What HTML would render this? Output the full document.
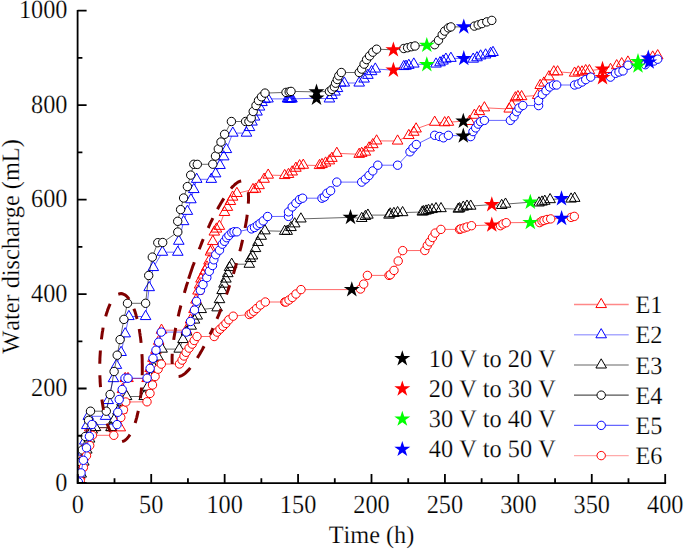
<!DOCTYPE html><html><head><meta charset="utf-8"><style>html,body{margin:0;padding:0;background:#fff;}svg{display:block;}text{font-family:"Liberation Serif",serif;text-rendering:geometricPrecision;font-kerning:none;stroke:#fff;stroke-width:0.2px;}</style></head><body><svg width="685" height="549" viewBox="0 0 685 549" font-family="Liberation Serif, serif" font-size="24.3" fill="#000"><defs><clipPath id="pc"><rect x="77.6" y="0" width="600" height="483.1"/></clipPath></defs><g clip-path="url(#pc)"><g><path d="M78.3,482 79.8,476 81.5,467 83.3,457 85.5,445 88,435 89.7,427.8 94,427.8 111.5,427.8 120.3,427.8 121.7,410 122.5,389.5 125.2,378.5 128,378.5 147.1,378.5 150.1,368.4 153,358.3 156,350.2 158.7,341.2 161.5,330.2 186.3,330.2 190.5,320 194,309.5 196,300 198,291 199.6,285 201,279 203,275 205,271 207,267 209,261 210.5,252 211.4,250 212.8,241.5 214.3,232 216.5,229 219.4,226.3 224.5,212.4 227.4,207.3 230.4,201.4 232.6,197.1 236.9,193.4 253,189.5 255.6,189.1 259.1,185.6 264.1,179.2 268.2,175.1 284.7,175.5 288.5,174.4 292.2,171.9 295.9,168.2 299.6,165.7 303.3,165.2 319.5,165.5 322,164.5 325.6,163 329.4,160.8 331.9,158.3 336.8,153.3 359.2,154.3 361.7,153.3 365.4,152.1 369.1,147.9 372.8,144.6 376.6,140.9 397.6,141 408.8,135.5 413.8,132.2 416.1,128.9 434.7,122.2 444.7,122.7 448.4,122.2 463.3,121.2 469.5,121.4 474.4,115.2 479.4,111.5 484.4,107.8 509.2,109 511.7,105.3 515.4,97.8 517.9,96.6 521.6,96.6 537.7,95.4 540.2,85.4 543.9,83 548.9,76.8 553.8,71.8 557.6,71.8 574.6,73.1 578.3,71.9 582,71.9 585.7,70.6 589.4,70.6 602.5,69.1 610.5,69.4 616.7,65.7 621.7,63.7 627.9,62 638,61.5 646.5,60.7 652.7,57 657.7,55.7" fill="none" stroke="#f00" stroke-width="0.6"/><path d="M78.3 475.87L83.6 485.07L73 485.07ZM79.8 469.87L85.1 479.07L74.5 479.07ZM81.5 460.87L86.8 470.07L76.2 470.07ZM83.3 450.87L88.6 460.07L78 460.07ZM85.5 438.87L90.8 448.07L80.2 448.07ZM88 428.87L93.3 438.07L82.7 438.07ZM89.7 421.67L95 430.87L84.4 430.87ZM94 421.67L99.3 430.87L88.7 430.87ZM111.5 421.67L116.8 430.87L106.2 430.87ZM120.3 421.67L125.6 430.87L115 430.87ZM121.7 403.87L127 413.07L116.4 413.07ZM122.5 383.37L127.8 392.57L117.2 392.57ZM125.2 372.37L130.5 381.57L119.9 381.57ZM128 372.37L133.3 381.57L122.7 381.57ZM147.1 372.37L152.4 381.57L141.8 381.57ZM150.1 362.27L155.4 371.47L144.8 371.47ZM153 352.17L158.3 361.37L147.7 361.37ZM156 344.07L161.3 353.27L150.7 353.27ZM158.7 335.07L164 344.27L153.4 344.27ZM161.5 324.07L166.8 333.27L156.2 333.27ZM186.3 324.07L191.6 333.27L181 333.27ZM190.5 313.87L195.8 323.07L185.2 323.07ZM194 303.37L199.3 312.57L188.7 312.57ZM196 293.87L201.3 303.07L190.7 303.07ZM198 284.87L203.3 294.07L192.7 294.07ZM199.6 278.87L204.9 288.07L194.3 288.07ZM201 272.87L206.3 282.07L195.7 282.07ZM203 268.87L208.3 278.07L197.7 278.07ZM205 264.87L210.3 274.07L199.7 274.07ZM207 260.87L212.3 270.07L201.7 270.07ZM209 254.87L214.3 264.07L203.7 264.07ZM210.5 245.87L215.8 255.07L205.2 255.07ZM211.4 243.87L216.7 253.07L206.1 253.07ZM212.8 235.37L218.1 244.57L207.5 244.57ZM214.3 225.87L219.6 235.07L209 235.07ZM216.5 222.87L221.8 232.07L211.2 232.07ZM219.4 220.17L224.7 229.37L214.1 229.37ZM224.5 206.27L229.8 215.47L219.2 215.47ZM227.4 201.17L232.7 210.37L222.1 210.37ZM230.4 195.27L235.7 204.47L225.1 204.47ZM232.6 190.97L237.9 200.17L227.3 200.17ZM236.9 187.27L242.2 196.47L231.6 196.47ZM253 183.37L258.3 192.57L247.7 192.57ZM255.6 182.97L260.9 192.17L250.3 192.17ZM259.1 179.47L264.4 188.67L253.8 188.67ZM264.1 173.07L269.4 182.27L258.8 182.27ZM268.2 168.97L273.5 178.17L262.9 178.17ZM284.7 169.37L290 178.57L279.4 178.57ZM288.5 168.27L293.8 177.47L283.2 177.47ZM292.2 165.77L297.5 174.97L286.9 174.97ZM295.9 162.07L301.2 171.27L290.6 171.27ZM299.6 159.57L304.9 168.77L294.3 168.77ZM303.3 159.07L308.6 168.27L298 168.27ZM319.5 159.37L324.8 168.57L314.2 168.57ZM322 158.37L327.3 167.57L316.7 167.57ZM325.6 156.87L330.9 166.07L320.3 166.07ZM329.4 154.67L334.7 163.87L324.1 163.87ZM331.9 152.17L337.2 161.37L326.6 161.37ZM336.8 147.17L342.1 156.37L331.5 156.37ZM359.2 148.17L364.5 157.37L353.9 157.37ZM361.7 147.17L367 156.37L356.4 156.37ZM365.4 145.97L370.7 155.17L360.1 155.17ZM369.1 141.77L374.4 150.97L363.8 150.97ZM372.8 138.47L378.1 147.67L367.5 147.67ZM376.6 134.77L381.9 143.97L371.3 143.97ZM397.6 134.87L402.9 144.07L392.3 144.07ZM408.8 129.37L414.1 138.57L403.5 138.57ZM413.8 126.07L419.1 135.27L408.5 135.27ZM416.1 122.77L421.4 131.97L410.8 131.97ZM434.7 116.07L440 125.27L429.4 125.27ZM444.7 116.57L450 125.77L439.4 125.77ZM448.4 116.07L453.7 125.27L443.1 125.27ZM469.5 115.27L474.8 124.47L464.2 124.47ZM474.4 109.07L479.7 118.27L469.1 118.27ZM479.4 105.37L484.7 114.57L474.1 114.57ZM484.4 101.67L489.7 110.87L479.1 110.87ZM509.2 102.87L514.5 112.07L503.9 112.07ZM511.7 99.17L517 108.37L506.4 108.37ZM515.4 91.67L520.7 100.87L510.1 100.87ZM517.9 90.47L523.2 99.67L512.6 99.67ZM521.6 90.47L526.9 99.67L516.3 99.67ZM537.7 89.27L543 98.47L532.4 98.47ZM540.2 79.27L545.5 88.47L534.9 88.47ZM543.9 76.87L549.2 86.07L538.6 86.07ZM548.9 70.67L554.2 79.87L543.6 79.87ZM553.8 65.67L559.1 74.87L548.5 74.87ZM557.6 65.67L562.9 74.87L552.3 74.87ZM574.6 66.97L579.9 76.17L569.3 76.17ZM578.3 65.77L583.6 74.97L573 74.97ZM582 65.77L587.3 74.97L576.7 74.97ZM585.7 64.47L591 73.67L580.4 73.67ZM589.4 64.47L594.7 73.67L584.1 73.67ZM610.5 63.27L615.8 72.47L605.2 72.47ZM616.7 59.57L622 68.77L611.4 68.77ZM621.7 57.57L627 66.77L616.4 66.77ZM627.9 55.87L633.2 65.07L622.6 65.07ZM646.5 54.57L651.8 63.77L641.2 63.77ZM652.7 50.87L658 60.07L647.4 60.07ZM657.7 49.57L663 58.77L652.4 58.77Z" fill="#fff" stroke="#f00" stroke-width="1"/></g><g><path d="M78.3,482 79.8,474 81.3,464 83,452 84.8,441 86.8,425.5 88.3,416.3 105.6,416.3 108.2,400.5 113.5,378.6 116.4,365.3 121.1,352.4 125.2,333.8 128.9,316.5 145.6,316.5 149.2,287.6 153.3,267.5 162.4,252.2 177.8,252.2 178.8,241.2 183.6,221.6 187.4,211.3 190.9,199.7 193.8,189.5 196.7,179.3 211.3,179.3 215.6,173.8 220,165.4 223.7,156.8 226.4,149.5 232.8,133.1 246.5,133.1 249.5,127.5 252,122 254.5,117 257,112 259.5,107 262,102.5 265,99.5 268,98.9 287.5,98.9 288.4,98.9 289.3,98.9 290.2,98.9 291.1,98.9 292,98.9 316.5,98.2 329.4,98.9 332,95.5 335,92 337.5,88.5 340.6,83 344.3,83 359.2,83 364.1,79 367.9,75.3 371.6,71.6 375.3,69 393.4,70.1 403.8,66.5 406,66.2 408.8,65.3 413.8,64 426.8,64.6 436,64 440,62.7 443,61 445.9,59.1 450.9,58.3 463.8,58.5 473.2,59.1 477,57.7 480.6,55.9 485.6,54.9 490.6,53.4 493,52.4" fill="none" stroke="#00f" stroke-width="0.6"/><path d="M78.3 475.87L83.6 485.07L73 485.07ZM79.8 467.87L85.1 477.07L74.5 477.07ZM81.3 457.87L86.6 467.07L76 467.07ZM83 445.87L88.3 455.07L77.7 455.07ZM84.8 434.87L90.1 444.07L79.5 444.07ZM86.8 419.37L92.1 428.57L81.5 428.57ZM88.3 410.17L93.6 419.37L83 419.37ZM105.6 410.17L110.9 419.37L100.3 419.37ZM108.2 394.37L113.5 403.57L102.9 403.57ZM113.5 372.47L118.8 381.67L108.2 381.67ZM116.4 359.17L121.7 368.37L111.1 368.37ZM121.1 346.27L126.4 355.47L115.8 355.47ZM125.2 327.67L130.5 336.87L119.9 336.87ZM128.9 310.37L134.2 319.57L123.6 319.57ZM145.6 310.37L150.9 319.57L140.3 319.57ZM149.2 281.47L154.5 290.67L143.9 290.67ZM153.3 261.37L158.6 270.57L148 270.57ZM162.4 246.07L167.7 255.27L157.1 255.27ZM177.8 246.07L183.1 255.27L172.5 255.27ZM178.8 235.07L184.1 244.27L173.5 244.27ZM183.6 215.47L188.9 224.67L178.3 224.67ZM187.4 205.17L192.7 214.37L182.1 214.37ZM190.9 193.57L196.2 202.77L185.6 202.77ZM193.8 183.37L199.1 192.57L188.5 192.57ZM196.7 173.17L202 182.37L191.4 182.37ZM211.3 173.17L216.6 182.37L206 182.37ZM215.6 167.67L220.9 176.87L210.3 176.87ZM220 159.27L225.3 168.47L214.7 168.47ZM223.7 150.67L229 159.87L218.4 159.87ZM226.4 143.37L231.7 152.57L221.1 152.57ZM232.8 126.97L238.1 136.17L227.5 136.17ZM246.5 126.97L251.8 136.17L241.2 136.17ZM249.5 121.37L254.8 130.57L244.2 130.57ZM252 115.87L257.3 125.07L246.7 125.07ZM254.5 110.87L259.8 120.07L249.2 120.07ZM257 105.87L262.3 115.07L251.7 115.07ZM259.5 100.87L264.8 110.07L254.2 110.07ZM262 96.37L267.3 105.57L256.7 105.57ZM265 93.37L270.3 102.57L259.7 102.57ZM268 92.77L273.3 101.97L262.7 101.97ZM287.5 92.77L292.8 101.97L282.2 101.97ZM288.4 92.77L293.7 101.97L283.1 101.97ZM289.3 92.77L294.6 101.97L284 101.97ZM290.2 92.77L295.5 101.97L284.9 101.97ZM291.1 92.77L296.4 101.97L285.8 101.97ZM292 92.77L297.3 101.97L286.7 101.97ZM329.4 92.77L334.7 101.97L324.1 101.97ZM332 89.37L337.3 98.57L326.7 98.57ZM335 85.87L340.3 95.07L329.7 95.07ZM337.5 82.37L342.8 91.57L332.2 91.57ZM340.6 76.87L345.9 86.07L335.3 86.07ZM344.3 76.87L349.6 86.07L339 86.07ZM359.2 76.87L364.5 86.07L353.9 86.07ZM364.1 72.87L369.4 82.07L358.8 82.07ZM367.9 69.17L373.2 78.37L362.6 78.37ZM371.6 65.47L376.9 74.67L366.3 74.67ZM375.3 62.87L380.6 72.07L370 72.07ZM403.8 60.37L409.1 69.57L398.5 69.57ZM406 60.07L411.3 69.27L400.7 69.27ZM408.8 59.17L414.1 68.37L403.5 68.37ZM413.8 57.87L419.1 67.07L408.5 67.07ZM436 57.87L441.3 67.07L430.7 67.07ZM440 56.57L445.3 65.77L434.7 65.77ZM443 54.87L448.3 64.07L437.7 64.07ZM445.9 52.97L451.2 62.17L440.6 62.17ZM450.9 52.17L456.2 61.37L445.6 61.37ZM473.2 52.97L478.5 62.17L467.9 62.17ZM477 51.57L482.3 60.77L471.7 60.77ZM480.6 49.77L485.9 58.97L475.3 58.97ZM485.6 48.77L490.9 57.97L480.3 57.97ZM490.6 47.27L495.9 56.47L485.3 56.47ZM493 46.27L498.3 55.47L487.7 55.47Z" fill="#fff" stroke="#00f" stroke-width="1"/></g><g><path d="M78.3,482.5 81.2,474 83.8,462 86.8,450 89.6,439 92.2,430 95.5,427.5 111,427.5 114,420 118,411 122,402 126.6,396.5 144.2,396.5 147.5,387.2 150.5,378 154,368 158,357 162.1,349.1 179.2,349.1 183,339.5 186.5,332 191.2,326.1 194.5,320 197.2,316 201.2,309.5 217.1,307.8 219.5,299.6 222.1,290.5 224,284.1 225.9,279 227.8,273.6 229.5,267.5 231.7,264.2 249.3,264.2 250.5,258.5 252.5,255.9 255.5,248.5 258,242.4 261.2,236.2 264.9,230.8 284.7,231.3 287.2,231.3 291,227.5 294.7,223.8 300.9,218.9 350.5,217.4 361.7,218.4 365.4,216.4 367.9,215.1 389,215.1 390.2,213.9 393.9,213.4 397.6,212.6 402.6,212.6 422.3,212 423.6,211.6 426,211 428.5,210.3 432,209.5 436,208.6 441,208.6 458.3,209.1 459.6,208.6 463.3,207.1 467,206.1 470.7,206.1 491.8,204.6 501.7,205.4 505.5,204.1 530.3,202.2 539,202.9 542,202 544.8,201.2 550.1,199.6 561.5,198.7 571.1,199 574.7,198.3" fill="none" stroke="#000" stroke-width="0.6"/><path d="M78.3 476.37L83.6 485.57L73 485.57ZM81.2 467.87L86.5 477.07L75.9 477.07ZM83.8 455.87L89.1 465.07L78.5 465.07ZM86.8 443.87L92.1 453.07L81.5 453.07ZM89.6 432.87L94.9 442.07L84.3 442.07ZM92.2 423.87L97.5 433.07L86.9 433.07ZM95.5 421.37L100.8 430.57L90.2 430.57ZM111 421.37L116.3 430.57L105.7 430.57ZM114 413.87L119.3 423.07L108.7 423.07ZM118 404.87L123.3 414.07L112.7 414.07ZM122 395.87L127.3 405.07L116.7 405.07ZM126.6 390.37L131.9 399.57L121.3 399.57ZM144.2 390.37L149.5 399.57L138.9 399.57ZM147.5 381.07L152.8 390.27L142.2 390.27ZM150.5 371.87L155.8 381.07L145.2 381.07ZM154 361.87L159.3 371.07L148.7 371.07ZM158 350.87L163.3 360.07L152.7 360.07ZM162.1 342.97L167.4 352.17L156.8 352.17ZM179.2 342.97L184.5 352.17L173.9 352.17ZM183 333.37L188.3 342.57L177.7 342.57ZM186.5 325.87L191.8 335.07L181.2 335.07ZM191.2 319.97L196.5 329.17L185.9 329.17ZM194.5 313.87L199.8 323.07L189.2 323.07ZM197.2 309.87L202.5 319.07L191.9 319.07ZM201.2 303.37L206.5 312.57L195.9 312.57ZM217.1 301.67L222.4 310.87L211.8 310.87ZM219.5 293.47L224.8 302.67L214.2 302.67ZM222.1 284.37L227.4 293.57L216.8 293.57ZM224 277.97L229.3 287.17L218.7 287.17ZM225.9 272.87L231.2 282.07L220.6 282.07ZM227.8 267.47L233.1 276.67L222.5 276.67ZM229.5 261.37L234.8 270.57L224.2 270.57ZM231.7 258.07L237 267.27L226.4 267.27ZM249.3 258.07L254.6 267.27L244 267.27ZM250.5 252.37L255.8 261.57L245.2 261.57ZM252.5 249.77L257.8 258.97L247.2 258.97ZM255.5 242.37L260.8 251.57L250.2 251.57ZM258 236.27L263.3 245.47L252.7 245.47ZM261.2 230.07L266.5 239.27L255.9 239.27ZM264.9 224.67L270.2 233.87L259.6 233.87ZM284.7 225.17L290 234.37L279.4 234.37ZM287.2 225.17L292.5 234.37L281.9 234.37ZM291 221.37L296.3 230.57L285.7 230.57ZM294.7 217.67L300 226.87L289.4 226.87ZM300.9 212.77L306.2 221.97L295.6 221.97ZM361.7 212.27L367 221.47L356.4 221.47ZM365.4 210.27L370.7 219.47L360.1 219.47ZM367.9 208.97L373.2 218.17L362.6 218.17ZM389 208.97L394.3 218.17L383.7 218.17ZM390.2 207.77L395.5 216.97L384.9 216.97ZM393.9 207.27L399.2 216.47L388.6 216.47ZM397.6 206.47L402.9 215.67L392.3 215.67ZM402.6 206.47L407.9 215.67L397.3 215.67ZM422.3 205.87L427.6 215.07L417 215.07ZM423.6 205.47L428.9 214.67L418.3 214.67ZM426 204.87L431.3 214.07L420.7 214.07ZM428.5 204.17L433.8 213.37L423.2 213.37ZM432 203.37L437.3 212.57L426.7 212.57ZM436 202.47L441.3 211.67L430.7 211.67ZM441 202.47L446.3 211.67L435.7 211.67ZM458.3 202.97L463.6 212.17L453 212.17ZM459.6 202.47L464.9 211.67L454.3 211.67ZM463.3 200.97L468.6 210.17L458 210.17ZM467 199.97L472.3 209.17L461.7 209.17ZM470.7 199.97L476 209.17L465.4 209.17ZM501.7 199.27L507 208.47L496.4 208.47ZM505.5 197.97L510.8 207.17L500.2 207.17ZM539 196.77L544.3 205.97L533.7 205.97ZM542 195.87L547.3 205.07L536.7 205.07ZM544.8 195.07L550.1 204.27L539.5 204.27ZM550.1 193.47L555.4 202.67L544.8 202.67ZM571.1 192.87L576.4 202.07L565.8 202.07ZM574.7 192.17L580 201.37L569.4 201.37Z" fill="#fff" stroke="#000" stroke-width="1"/></g><g><path d="M78.3,481 79.5,472 80.8,462 82.3,450 85.3,436.5 88.6,420.4 90.5,411.2 106.3,411.2 110.1,394.5 114.1,371.5 117.2,355.2 120.1,339.6 123.9,319.4 127.5,303.3 145.6,303.3 148.7,275.5 152.3,257.1 157.8,242.7 162.7,242.5 177.8,232 177.7,221.3 180.6,209.6 183.6,198 187.4,186.6 190.7,175.1 193.8,164.3 197.3,164.4 212.8,164.2 215.5,156.1 218.3,148.9 221,142 224.6,134.3 231.4,121.5 245.6,121.5 248.9,121.5 251.2,118 253.2,111.5 256,105.5 258.5,100.6 261.5,96.8 265,93.1 286,92.4 289.2,91.9 291,91.4 316.5,91.9 329.4,91.4 331.9,89.4 334.4,86.9 335.6,83.2 337.3,79.5 338.8,75.8 341.3,72.5 359.2,72.5 361.7,69.1 364.1,64.1 366.6,59.6 369.6,55.9 372.8,52.2 376.6,49.2 393.4,49.8 403.8,48.5 407.6,47.7 411.3,46.7 415,46 426.8,45.3 434.7,44.7 438.5,40.3 442.2,34.8 444.7,31.1 448.4,27.9 450.9,26.9 463.8,26.9 474.4,26.1 478.2,24.9 481.9,23.6 486.8,21.9 491.8,20.4" fill="none" stroke="#000" stroke-width="0.6"/><g fill="#fff" stroke="#000" stroke-width="1"><circle cx="78.3" cy="481" r="4.2"/><circle cx="79.5" cy="472" r="4.2"/><circle cx="80.8" cy="462" r="4.2"/><circle cx="82.3" cy="450" r="4.2"/><circle cx="85.3" cy="436.5" r="4.2"/><circle cx="88.6" cy="420.4" r="4.2"/><circle cx="90.5" cy="411.2" r="4.2"/><circle cx="106.3" cy="411.2" r="4.2"/><circle cx="110.1" cy="394.5" r="4.2"/><circle cx="114.1" cy="371.5" r="4.2"/><circle cx="117.2" cy="355.2" r="4.2"/><circle cx="120.1" cy="339.6" r="4.2"/><circle cx="123.9" cy="319.4" r="4.2"/><circle cx="127.5" cy="303.3" r="4.2"/><circle cx="145.6" cy="303.3" r="4.2"/><circle cx="148.7" cy="275.5" r="4.2"/><circle cx="152.3" cy="257.1" r="4.2"/><circle cx="157.8" cy="242.7" r="4.2"/><circle cx="162.7" cy="242.5" r="4.2"/><circle cx="177.8" cy="232" r="4.2"/><circle cx="177.7" cy="221.3" r="4.2"/><circle cx="180.6" cy="209.6" r="4.2"/><circle cx="183.6" cy="198" r="4.2"/><circle cx="187.4" cy="186.6" r="4.2"/><circle cx="190.7" cy="175.1" r="4.2"/><circle cx="193.8" cy="164.3" r="4.2"/><circle cx="197.3" cy="164.4" r="4.2"/><circle cx="212.8" cy="164.2" r="4.2"/><circle cx="215.5" cy="156.1" r="4.2"/><circle cx="218.3" cy="148.9" r="4.2"/><circle cx="221" cy="142" r="4.2"/><circle cx="224.6" cy="134.3" r="4.2"/><circle cx="231.4" cy="121.5" r="4.2"/><circle cx="245.6" cy="121.5" r="4.2"/><circle cx="248.9" cy="121.5" r="4.2"/><circle cx="251.2" cy="118" r="4.2"/><circle cx="253.2" cy="111.5" r="4.2"/><circle cx="256" cy="105.5" r="4.2"/><circle cx="258.5" cy="100.6" r="4.2"/><circle cx="261.5" cy="96.8" r="4.2"/><circle cx="265" cy="93.1" r="4.2"/><circle cx="286" cy="92.4" r="4.2"/><circle cx="289.2" cy="91.9" r="4.2"/><circle cx="291" cy="91.4" r="4.2"/><circle cx="329.4" cy="91.4" r="4.2"/><circle cx="331.9" cy="89.4" r="4.2"/><circle cx="334.4" cy="86.9" r="4.2"/><circle cx="335.6" cy="83.2" r="4.2"/><circle cx="337.3" cy="79.5" r="4.2"/><circle cx="338.8" cy="75.8" r="4.2"/><circle cx="341.3" cy="72.5" r="4.2"/><circle cx="359.2" cy="72.5" r="4.2"/><circle cx="361.7" cy="69.1" r="4.2"/><circle cx="364.1" cy="64.1" r="4.2"/><circle cx="366.6" cy="59.6" r="4.2"/><circle cx="369.6" cy="55.9" r="4.2"/><circle cx="372.8" cy="52.2" r="4.2"/><circle cx="376.6" cy="49.2" r="4.2"/><circle cx="403.8" cy="48.5" r="4.2"/><circle cx="407.6" cy="47.7" r="4.2"/><circle cx="411.3" cy="46.7" r="4.2"/><circle cx="415" cy="46" r="4.2"/><circle cx="434.7" cy="44.7" r="4.2"/><circle cx="438.5" cy="40.3" r="4.2"/><circle cx="442.2" cy="34.8" r="4.2"/><circle cx="444.7" cy="31.1" r="4.2"/><circle cx="448.4" cy="27.9" r="4.2"/><circle cx="450.9" cy="26.9" r="4.2"/><circle cx="474.4" cy="26.1" r="4.2"/><circle cx="478.2" cy="24.9" r="4.2"/><circle cx="481.9" cy="23.6" r="4.2"/><circle cx="486.8" cy="21.9" r="4.2"/><circle cx="491.8" cy="20.4" r="4.2"/></g></g><g><path d="M78.3,482.5 80.3,480.7 83.4,467.4 86.5,455.7 89.7,445.5 92.4,435.3 113.8,435.3 120.8,417.5 123.5,409.8 125.8,402 147,401.8 150,393.4 152.5,385 155.1,376.5 158.1,369.2 161.3,364.1 179.5,364 182.1,360.1 184,356 186.1,352.3 189.1,348.1 192.2,344.1 194.2,340.5 197,336.5 214.2,336.5 217.1,332.1 220,329.2 223,326.3 225.9,323.4 228.8,319.8 233.2,316.2 249.3,314.5 251.2,313.3 253.6,311.3 256.6,308.5 260.4,305 265.3,302 284.8,302 286,302 289,300 292.3,297.5 296,294 301,289.6 351.8,289.6 360.5,289 363.7,284.1 367.4,275.4 389,275.4 390.3,274.7 394,270.4 398.2,261 402.7,250.6 424.8,250.5 427.3,245.5 429.8,241.8 432.5,237.5 435.2,233.1 440.9,229.4 459.6,229.4 460.8,228.9 464,228 467,227 471.5,225.7 491.8,225 500.5,225.7 503,224 506.2,222.7 530.3,222.5 539.7,222.6 542,221 544,220.5 547,219.5 550.7,218.9 561.6,218.4 571.1,217.4 574.3,216.4" fill="none" stroke="#f00" stroke-width="0.6"/><g fill="#fff" stroke="#f00" stroke-width="1"><circle cx="78.3" cy="482.5" r="4.2"/><circle cx="80.3" cy="480.7" r="4.2"/><circle cx="83.4" cy="467.4" r="4.2"/><circle cx="86.5" cy="455.7" r="4.2"/><circle cx="89.7" cy="445.5" r="4.2"/><circle cx="92.4" cy="435.3" r="4.2"/><circle cx="113.8" cy="435.3" r="4.2"/><circle cx="120.8" cy="417.5" r="4.2"/><circle cx="123.5" cy="409.8" r="4.2"/><circle cx="125.8" cy="402" r="4.2"/><circle cx="147" cy="401.8" r="4.2"/><circle cx="150" cy="393.4" r="4.2"/><circle cx="152.5" cy="385" r="4.2"/><circle cx="155.1" cy="376.5" r="4.2"/><circle cx="158.1" cy="369.2" r="4.2"/><circle cx="161.3" cy="364.1" r="4.2"/><circle cx="179.5" cy="364" r="4.2"/><circle cx="182.1" cy="360.1" r="4.2"/><circle cx="184" cy="356" r="4.2"/><circle cx="186.1" cy="352.3" r="4.2"/><circle cx="189.1" cy="348.1" r="4.2"/><circle cx="192.2" cy="344.1" r="4.2"/><circle cx="194.2" cy="340.5" r="4.2"/><circle cx="197" cy="336.5" r="4.2"/><circle cx="214.2" cy="336.5" r="4.2"/><circle cx="217.1" cy="332.1" r="4.2"/><circle cx="220" cy="329.2" r="4.2"/><circle cx="223" cy="326.3" r="4.2"/><circle cx="225.9" cy="323.4" r="4.2"/><circle cx="228.8" cy="319.8" r="4.2"/><circle cx="233.2" cy="316.2" r="4.2"/><circle cx="249.3" cy="314.5" r="4.2"/><circle cx="251.2" cy="313.3" r="4.2"/><circle cx="253.6" cy="311.3" r="4.2"/><circle cx="256.6" cy="308.5" r="4.2"/><circle cx="260.4" cy="305" r="4.2"/><circle cx="265.3" cy="302" r="4.2"/><circle cx="284.8" cy="302" r="4.2"/><circle cx="286" cy="302" r="4.2"/><circle cx="289" cy="300" r="4.2"/><circle cx="292.3" cy="297.5" r="4.2"/><circle cx="296" cy="294" r="4.2"/><circle cx="301" cy="289.6" r="4.2"/><circle cx="360.5" cy="289" r="4.2"/><circle cx="363.7" cy="284.1" r="4.2"/><circle cx="367.4" cy="275.4" r="4.2"/><circle cx="389" cy="275.4" r="4.2"/><circle cx="390.3" cy="274.7" r="4.2"/><circle cx="394" cy="270.4" r="4.2"/><circle cx="398.2" cy="261" r="4.2"/><circle cx="402.7" cy="250.6" r="4.2"/><circle cx="424.8" cy="250.5" r="4.2"/><circle cx="427.3" cy="245.5" r="4.2"/><circle cx="429.8" cy="241.8" r="4.2"/><circle cx="432.5" cy="237.5" r="4.2"/><circle cx="435.2" cy="233.1" r="4.2"/><circle cx="440.9" cy="229.4" r="4.2"/><circle cx="459.6" cy="229.4" r="4.2"/><circle cx="460.8" cy="228.9" r="4.2"/><circle cx="464" cy="228" r="4.2"/><circle cx="467" cy="227" r="4.2"/><circle cx="471.5" cy="225.7" r="4.2"/><circle cx="500.5" cy="225.7" r="4.2"/><circle cx="503" cy="224" r="4.2"/><circle cx="506.2" cy="222.7" r="4.2"/><circle cx="539.7" cy="222.6" r="4.2"/><circle cx="542" cy="221" r="4.2"/><circle cx="544" cy="220.5" r="4.2"/><circle cx="547" cy="219.5" r="4.2"/><circle cx="550.7" cy="218.9" r="4.2"/><circle cx="571.1" cy="217.4" r="4.2"/><circle cx="574.3" cy="216.4" r="4.2"/></g></g><g><path d="M78.3,482 81,472.9 83.4,460.3 86.5,447.8 89.4,436.4 92,424.5 117,424.6 117.8,412.3 119.2,399.5 122.2,389.5 125,378.2 128,378.2 147.1,378.2 150.1,368.4 153,358.3 156,350.2 158.7,342.2 161.3,332.1 186.3,332.1 190.5,321.5 194.5,310.1 196.5,301.3 200.4,290.4 203,284.6 206.8,277.6 209.3,271.3 212.5,265.5 213.8,259.8 215.7,254.7 219.5,250.2 222.3,244.2 224.5,241.3 226.7,237.7 228.9,235.5 231.8,232.6 234,231.8 236.9,231.8 251.5,228.9 254.5,227.5 257.4,225.3 260,223.5 263.2,220.9 267.6,216.5 288.5,216.4 288.5,211.9 292.2,206.9 295.9,203.2 299.6,199.5 302.6,198.2 322,198.2 324.4,197 326.9,193.3 330.6,190.8 336.8,182.1 361.7,182.1 365.4,179.1 369,175.5 372.8,170.9 377.8,165.2 397.6,165.2 410,151.8 413,148 416.3,144.5 434.7,135.3 439.5,136.5 443.4,137.8 448.4,135.3 463.3,136 470.7,136.6 473,131.6 475.7,127.9 478.2,124.1 480.6,121.7 484.4,120.4 510.4,120.4 514,116.7 516.6,111.7 519,108 522.8,105.5 538.6,105.6 538.6,100.6 542.3,94.4 546,90.7 549.7,87 553.5,85 556.7,85 574.6,85 578.3,84 582,82 585.7,79.6 590.7,77.1 602.5,77.7 610.5,77.1 615.5,73.3 619,72 623,70.9 628,65.2 638,66 645.3,64.7 649.2,62 654,61 657.7,59.2" fill="none" stroke="#00f" stroke-width="0.6"/><g fill="#fff" stroke="#00f" stroke-width="1"><circle cx="78.3" cy="482" r="4.2"/><circle cx="81" cy="472.9" r="4.2"/><circle cx="83.4" cy="460.3" r="4.2"/><circle cx="86.5" cy="447.8" r="4.2"/><circle cx="89.4" cy="436.4" r="4.2"/><circle cx="92" cy="424.5" r="4.2"/><circle cx="117" cy="424.6" r="4.2"/><circle cx="117.8" cy="412.3" r="4.2"/><circle cx="119.2" cy="399.5" r="4.2"/><circle cx="122.2" cy="389.5" r="4.2"/><circle cx="125" cy="378.2" r="4.2"/><circle cx="128" cy="378.2" r="4.2"/><circle cx="147.1" cy="378.2" r="4.2"/><circle cx="150.1" cy="368.4" r="4.2"/><circle cx="153" cy="358.3" r="4.2"/><circle cx="156" cy="350.2" r="4.2"/><circle cx="158.7" cy="342.2" r="4.2"/><circle cx="161.3" cy="332.1" r="4.2"/><circle cx="186.3" cy="332.1" r="4.2"/><circle cx="190.5" cy="321.5" r="4.2"/><circle cx="194.5" cy="310.1" r="4.2"/><circle cx="196.5" cy="301.3" r="4.2"/><circle cx="200.4" cy="290.4" r="4.2"/><circle cx="203" cy="284.6" r="4.2"/><circle cx="206.8" cy="277.6" r="4.2"/><circle cx="209.3" cy="271.3" r="4.2"/><circle cx="212.5" cy="265.5" r="4.2"/><circle cx="213.8" cy="259.8" r="4.2"/><circle cx="215.7" cy="254.7" r="4.2"/><circle cx="219.5" cy="250.2" r="4.2"/><circle cx="222.3" cy="244.2" r="4.2"/><circle cx="224.5" cy="241.3" r="4.2"/><circle cx="226.7" cy="237.7" r="4.2"/><circle cx="228.9" cy="235.5" r="4.2"/><circle cx="231.8" cy="232.6" r="4.2"/><circle cx="234" cy="231.8" r="4.2"/><circle cx="236.9" cy="231.8" r="4.2"/><circle cx="251.5" cy="228.9" r="4.2"/><circle cx="254.5" cy="227.5" r="4.2"/><circle cx="257.4" cy="225.3" r="4.2"/><circle cx="260" cy="223.5" r="4.2"/><circle cx="263.2" cy="220.9" r="4.2"/><circle cx="267.6" cy="216.5" r="4.2"/><circle cx="288.5" cy="216.4" r="4.2"/><circle cx="288.5" cy="211.9" r="4.2"/><circle cx="292.2" cy="206.9" r="4.2"/><circle cx="295.9" cy="203.2" r="4.2"/><circle cx="299.6" cy="199.5" r="4.2"/><circle cx="302.6" cy="198.2" r="4.2"/><circle cx="322" cy="198.2" r="4.2"/><circle cx="324.4" cy="197" r="4.2"/><circle cx="326.9" cy="193.3" r="4.2"/><circle cx="330.6" cy="190.8" r="4.2"/><circle cx="336.8" cy="182.1" r="4.2"/><circle cx="361.7" cy="182.1" r="4.2"/><circle cx="365.4" cy="179.1" r="4.2"/><circle cx="369" cy="175.5" r="4.2"/><circle cx="372.8" cy="170.9" r="4.2"/><circle cx="377.8" cy="165.2" r="4.2"/><circle cx="397.6" cy="165.2" r="4.2"/><circle cx="410" cy="151.8" r="4.2"/><circle cx="413" cy="148" r="4.2"/><circle cx="416.3" cy="144.5" r="4.2"/><circle cx="434.7" cy="135.3" r="4.2"/><circle cx="439.5" cy="136.5" r="4.2"/><circle cx="443.4" cy="137.8" r="4.2"/><circle cx="448.4" cy="135.3" r="4.2"/><circle cx="470.7" cy="136.6" r="4.2"/><circle cx="473" cy="131.6" r="4.2"/><circle cx="475.7" cy="127.9" r="4.2"/><circle cx="478.2" cy="124.1" r="4.2"/><circle cx="480.6" cy="121.7" r="4.2"/><circle cx="484.4" cy="120.4" r="4.2"/><circle cx="510.4" cy="120.4" r="4.2"/><circle cx="514" cy="116.7" r="4.2"/><circle cx="516.6" cy="111.7" r="4.2"/><circle cx="519" cy="108" r="4.2"/><circle cx="522.8" cy="105.5" r="4.2"/><circle cx="538.6" cy="105.6" r="4.2"/><circle cx="538.6" cy="100.6" r="4.2"/><circle cx="542.3" cy="94.4" r="4.2"/><circle cx="546" cy="90.7" r="4.2"/><circle cx="549.7" cy="87" r="4.2"/><circle cx="553.5" cy="85" r="4.2"/><circle cx="556.7" cy="85" r="4.2"/><circle cx="574.6" cy="85" r="4.2"/><circle cx="578.3" cy="84" r="4.2"/><circle cx="582" cy="82" r="4.2"/><circle cx="585.7" cy="79.6" r="4.2"/><circle cx="590.7" cy="77.1" r="4.2"/><circle cx="610.5" cy="77.1" r="4.2"/><circle cx="615.5" cy="73.3" r="4.2"/><circle cx="619" cy="72" r="4.2"/><circle cx="623" cy="70.9" r="4.2"/><circle cx="628" cy="65.2" r="4.2"/><circle cx="645.3" cy="64.7" r="4.2"/><circle cx="654" cy="61" r="4.2"/><circle cx="657.7" cy="59.2" r="4.2"/></g></g></g><path d="M118.3 294.2L119.7 293.8L121.1 293.6L122.4 293.8L123.8 294.3L125.2 295.0L126.5 296.1L127.8 297.5L129.1 299.1M133.9 308.8L134.3 309.9L134.8 311.1L135.2 312.3L135.6 313.6L136.0 314.9L136.3 316.2L136.7 317.6L137.1 319.0M139.2 329.1L139.5 330.8L139.7 332.4L140.0 334.1L140.2 335.8L140.5 337.6L140.7 339.3L140.9 341.1L141.1 342.9M141.9 354.1L142.1 356.7L142.2 359.3L142.2 361.9L142.3 364.6L142.3 367.2L142.3 369.9L142.3 372.5L142.2 375.2M141.5 387.5L141.4 388.9L141.3 390.3L141.1 391.7L141.0 393.0L140.9 394.4L140.7 395.7L140.5 397.0L140.4 398.4M138.3 410.9L137.9 412.6L137.5 414.2L137.2 415.7L136.8 417.3L136.4 418.7L136.0 420.2L135.6 421.6L135.1 423.0M130.0 434.7L129.0 436.1L128.0 437.4L127.1 438.5L126.1 439.4L125.1 440.2L124.1 440.8L123.0 441.2L122.0 441.4M110.5 431.7L110.0 430.8L109.6 429.9L109.2 428.9L108.7 427.9L108.3 426.9L107.9 425.8L107.5 424.7L107.1 423.5M103.6 409.8L103.3 408.5L103.1 407.3L102.9 406.0L102.7 404.8L102.5 403.5L102.3 402.2L102.1 400.9L101.9 399.5M100.5 387.1L100.4 385.6L100.3 384.1L100.2 382.7L100.1 381.2L100.1 379.7L100.0 378.3L99.9 376.8L99.9 375.3M99.8 363.7L99.8 362.0L99.9 360.4L99.9 358.7L100.0 357.0L100.1 355.4L100.2 353.8L100.3 352.1L100.4 350.5M101.4 339.4L101.6 337.9L101.8 336.4L102.0 334.9L102.2 333.4L102.4 331.9L102.7 330.5L102.9 329.0L103.1 327.6M105.7 316.4L106.2 314.6L106.7 312.9L107.3 311.2L107.8 309.6L108.4 308.1L109.0 306.6L109.6 305.2L110.2 303.9M231.0 188.6L232.4 186.9L233.9 185.5L235.2 184.2L236.6 183.1L237.8 182.3L239.0 181.6L240.2 181.2L241.2 181.0M248.3 192.3L248.4 193.5L248.4 194.8L248.5 196.1L248.5 197.5L248.5 199.0L248.5 200.5L248.4 202.0L248.3 203.6M247.2 214.8L247.0 216.4L246.8 217.9L246.6 219.6L246.3 221.2L246.0 222.9L245.7 224.6L245.4 226.3L245.1 228.0M242.7 239.8L242.3 241.2L242.0 242.6L241.7 244.0L241.3 245.5L241.0 246.9L240.6 248.4L240.2 249.8L239.9 251.3M236.6 263.1L236.2 264.4L235.8 265.8L235.5 267.1L235.0 268.5L234.6 269.8L234.2 271.2L233.8 272.6L233.4 273.9M229.7 285.2L229.3 286.4L228.9 287.6L228.5 288.7L228.1 289.9L227.7 291.0L227.3 292.2L226.9 293.3L226.5 294.5M221.0 309.1L220.5 310.3L220.0 311.6L219.5 312.8L219.0 314.1L218.5 315.3L218.0 316.5L217.5 317.7L217.0 318.9M212.9 328.1L212.6 328.9L212.2 329.8L211.8 330.6L211.5 331.4L211.1 332.1L210.7 332.9L210.4 333.7L210.0 334.5M204.1 346.2L203.2 347.8L202.4 349.4L201.5 350.9L200.7 352.3L199.9 353.8L199.0 355.2L198.2 356.5L197.4 357.9M190.3 367.9L188.6 369.9L186.9 371.6L185.4 373.1L183.9 374.3L182.4 375.2L181.1 375.9L179.8 376.3L178.6 376.4M172.2 363.9L172.2 362.8L172.1 361.6L172.1 360.4L172.1 359.1L172.1 357.8L172.1 356.5L172.2 355.1L172.2 353.7M173.7 339.9L173.9 338.5L174.1 337.0L174.4 335.6L174.6 334.1L174.9 332.6L175.2 331.0L175.4 329.5L175.7 327.9M178.2 316.4L178.5 315.1L178.8 313.7L179.1 312.4L179.5 311.0L179.8 309.6L180.2 308.3L180.5 306.9L180.9 305.5M184.4 292.8L184.8 291.4L185.2 290.0L185.6 288.7L186.0 287.3L186.4 285.9L186.8 284.6L187.3 283.2L187.7 281.8M188.6 278.8L189.3 276.7L190.0 274.6L190.7 272.6L191.4 270.5L192.1 268.4L192.8 266.3L193.6 264.3L194.3 262.2M199.2 249.3L199.7 248.0L200.2 246.8L200.7 245.5L201.2 244.2L201.7 242.9L202.2 241.7L202.7 240.4L203.3 239.2M208.2 228.0L208.8 226.7L209.4 225.4L209.9 224.2L210.5 222.9L211.1 221.7L211.7 220.5L212.3 219.2L212.9 218.1M217.5 209.2L218.3 207.7L219.1 206.3L219.9 204.9L220.7 203.5L221.5 202.2L222.3 200.9L223.1 199.6L223.9 198.4" fill="none" stroke="#800000" stroke-width="3" stroke-linecap="butt"/><path d="M316.5 83.5L318.39 89.3L324.49 89.3L319.55 92.89L321.44 98.7L316.5 95.11L311.56 98.7L313.45 92.89L308.51 89.3L314.61 89.3Z" fill="#000"/><path d="M316.5 89.8L318.39 95.6L324.49 95.6L319.55 99.19L321.44 105L316.5 101.41L311.56 105L313.45 99.19L308.51 95.6L314.61 95.6Z" fill="#000"/><path d="M463.3 112.8L465.19 118.6L471.29 118.6L466.35 122.19L468.24 128L463.3 124.41L458.36 128L460.25 122.19L455.31 118.6L461.41 118.6Z" fill="#000"/><path d="M463.3 127.6L465.19 133.4L471.29 133.4L466.35 136.99L468.24 142.8L463.3 139.21L458.36 142.8L460.25 136.99L455.31 133.4L461.41 133.4Z" fill="#000"/><path d="M350.5 209L352.39 214.8L358.49 214.8L353.55 218.39L355.44 224.2L350.5 220.61L345.56 224.2L347.45 218.39L342.51 214.8L348.61 214.8Z" fill="#000"/><path d="M351.8 281.2L353.69 287L359.79 287L354.85 290.59L356.74 296.4L351.8 292.81L346.86 296.4L348.75 290.59L343.81 287L349.91 287Z" fill="#000"/><path d="M393.4 41.4L395.29 47.2L401.39 47.2L396.45 50.79L398.34 56.6L393.4 53.01L388.46 56.6L390.35 50.79L385.41 47.2L391.51 47.2Z" fill="#f00"/><path d="M393.4 61.7L395.29 67.5L401.39 67.5L396.45 71.09L398.34 76.9L393.4 73.31L388.46 76.9L390.35 71.09L385.41 67.5L391.51 67.5Z" fill="#f00"/><path d="M602.5 60.7L604.39 66.5L610.49 66.5L605.55 70.09L607.44 75.9L602.5 72.31L597.56 75.9L599.45 70.09L594.51 66.5L600.61 66.5Z" fill="#f00"/><path d="M602.5 69.3L604.39 75.1L610.49 75.1L605.55 78.69L607.44 84.5L602.5 80.91L597.56 84.5L599.45 78.69L594.51 75.1L600.61 75.1Z" fill="#f00"/><path d="M491.8 196.2L493.69 202L499.79 202L494.85 205.59L496.74 211.4L491.8 207.81L486.86 211.4L488.75 205.59L483.81 202L489.91 202Z" fill="#f00"/><path d="M491.8 216.6L493.69 222.4L499.79 222.4L494.85 225.99L496.74 231.8L491.8 228.21L486.86 231.8L488.75 225.99L483.81 222.4L489.91 222.4Z" fill="#f00"/><path d="M426.8 36.9L428.69 42.7L434.79 42.7L429.85 46.29L431.74 52.1L426.8 48.51L421.86 52.1L423.75 46.29L418.81 42.7L424.91 42.7Z" fill="#0f0"/><path d="M426.8 56.2L428.69 62L434.79 62L429.85 65.59L431.74 71.4L426.8 67.81L421.86 71.4L423.75 65.59L418.81 62L424.91 62Z" fill="#0f0"/><path d="M638 53.1L639.89 58.9L645.99 58.9L641.05 62.49L642.94 68.3L638 64.71L633.06 68.3L634.95 62.49L630.01 58.9L636.11 58.9Z" fill="#0f0"/><path d="M638 57.6L639.89 63.4L645.99 63.4L641.05 66.99L642.94 72.8L638 69.21L633.06 72.8L634.95 66.99L630.01 63.4L636.11 63.4Z" fill="#0f0"/><path d="M530.3 193.8L532.19 199.6L538.29 199.6L533.35 203.19L535.24 209L530.3 205.41L525.36 209L527.25 203.19L522.31 199.6L528.41 199.6Z" fill="#0f0"/><path d="M530.3 214.1L532.19 219.9L538.29 219.9L533.35 223.49L535.24 229.3L530.3 225.71L525.36 229.3L527.25 223.49L522.31 219.9L528.41 219.9Z" fill="#0f0"/><path d="M463.8 18.5L465.69 24.3L471.79 24.3L466.85 27.89L468.74 33.7L463.8 30.11L458.86 33.7L460.75 27.89L455.81 24.3L461.91 24.3Z" fill="#00f"/><path d="M463.8 50.1L465.69 55.9L471.79 55.9L466.85 59.49L468.74 65.3L463.8 61.71L458.86 65.3L460.75 59.49L455.81 55.9L461.91 55.9Z" fill="#00f"/><path d="M648.3 49.6L650.19 55.4L656.29 55.4L651.35 58.99L653.24 64.8L648.3 61.21L643.36 64.8L645.25 58.99L640.31 55.4L646.41 55.4Z" fill="#00f"/><path d="M649.2 53.6L651.09 59.4L657.19 59.4L652.25 62.99L654.14 68.8L649.2 65.21L644.26 68.8L646.15 62.99L641.21 59.4L647.31 59.4Z" fill="#00f"/><path d="M561.5 190.3L563.39 196.1L569.49 196.1L564.55 199.69L566.44 205.5L561.5 201.91L556.56 205.5L558.45 199.69L553.51 196.1L559.61 196.1Z" fill="#00f"/><path d="M561.6 210L563.49 215.8L569.59 215.8L564.65 219.39L566.54 225.2L561.6 221.61L556.66 225.2L558.55 219.39L553.61 215.8L559.71 215.8Z" fill="#00f"/><path d="M77.6 10 V483.1 H666.1" fill="none" stroke="#000" stroke-width="1.8" stroke-linejoin="miter"/><path d="M77.8 483.1V474.1M114.51 483.1V478.3M151.22 483.1V474.1M187.94 483.1V478.3M224.65 483.1V474.1M261.36 483.1V478.3M298.07 483.1V474.1M334.79 483.1V478.3M371.5 483.1V474.1M408.21 483.1V478.3M444.93 483.1V474.1M481.64 483.1V478.3M518.35 483.1V474.1M555.06 483.1V478.3M591.77 483.1V474.1M628.49 483.1V478.3M665.2 483.1V474.1M77.6 483H86.6M77.6 435.76H82.4M77.6 388.52H86.6M77.6 341.28H82.4M77.6 294.04H86.6M77.6 246.8H82.4M77.6 199.56H86.6M77.6 152.32H82.4M77.6 105.08H86.6M77.6 57.84H82.4M77.6 10.6H86.6" stroke="#000" stroke-width="1.8" fill="none"/><text transform="translate(77.8 512.7) scale(1 1.08)" text-anchor="middle">0</text><text transform="translate(151.22 512.7) scale(1 1.08)" text-anchor="middle">50</text><text transform="translate(224.65 512.7) scale(1 1.08)" text-anchor="middle">100</text><text transform="translate(298.07 512.7) scale(1 1.08)" text-anchor="middle">150</text><text transform="translate(371.5 512.7) scale(1 1.08)" text-anchor="middle">200</text><text transform="translate(444.93 512.7) scale(1 1.08)" text-anchor="middle">250</text><text transform="translate(518.35 512.7) scale(1 1.08)" text-anchor="middle">300</text><text transform="translate(591.77 512.7) scale(1 1.08)" text-anchor="middle">350</text><text transform="translate(665.2 512.7) scale(1 1.08)" text-anchor="middle">400</text><text transform="translate(67.5 490.7) scale(1 1.08)" text-anchor="end">0</text><text transform="translate(67.5 396.22) scale(1 1.08)" text-anchor="end">200</text><text transform="translate(67.5 301.74) scale(1 1.08)" text-anchor="end">400</text><text transform="translate(67.5 207.26) scale(1 1.08)" text-anchor="end">600</text><text transform="translate(67.5 112.78) scale(1 1.08)" text-anchor="end">800</text><text transform="translate(67.5 18.3) scale(1 1.08)" text-anchor="end">1000</text><text transform="translate(371.5 543.3) scale(1 1.03)" text-anchor="middle">Time (h)</text><text transform="translate(18.5 246.5) rotate(-90) scale(1 1.03)" text-anchor="middle">Water discharge (mL)</text><path d="M402.3 350.2L404.19 356L410.29 356L405.35 359.59L407.24 365.4L402.3 361.81L397.36 365.4L399.25 359.59L394.31 356L400.41 356Z" fill="#000"/><text transform="translate(428.8 366.8) scale(1 1.04)">10 V to 20 V</text><path d="M402.3 380.43L404.19 386.23L410.29 386.23L405.35 389.82L407.24 395.63L402.3 392.04L397.36 395.63L399.25 389.82L394.31 386.23L400.41 386.23Z" fill="#f00"/><text transform="translate(428.8 397.03) scale(1 1.04)">20 V to 30 V</text><path d="M402.3 410.66L404.19 416.46L410.29 416.46L405.35 420.05L407.24 425.86L402.3 422.27L397.36 425.86L399.25 420.05L394.31 416.46L400.41 416.46Z" fill="#0f0"/><text transform="translate(428.8 427.26) scale(1 1.04)">30 V to 40 V</text><path d="M402.3 440.89L404.19 446.69L410.29 446.69L405.35 450.28L407.24 456.09L402.3 452.5L397.36 456.09L399.25 450.28L394.31 446.69L400.41 446.69Z" fill="#00f"/><text transform="translate(428.8 457.49) scale(1 1.04)">40 V to 50 V</text><path d="M574 304.5H628.7" stroke="#f88" stroke-width="1.4"/><path d="M601.2 298.37L606.5 307.57L595.9 307.57Z" fill="#fff" stroke="#f00" stroke-width="1"/><text transform="translate(635.5 313.1) scale(1 1.03)">E1</text><path d="M574 334.72H628.7" stroke="#aaf" stroke-width="1.4"/><path d="M601.2 328.59L606.5 337.79L595.9 337.79Z" fill="#fff" stroke="#00f" stroke-width="1"/><text transform="translate(635.5 343.32) scale(1 1.03)">E2</text><path d="M574 364.94H628.7" stroke="#999" stroke-width="1.4"/><path d="M601.2 358.81L606.5 368.01L595.9 368.01Z" fill="#fff" stroke="#000" stroke-width="1"/><text transform="translate(635.5 373.54) scale(1 1.03)">E3</text><path d="M574 395.16H628.7" stroke="#555" stroke-width="1.4"/><circle cx="601.2" cy="395.16" r="4.2" fill="#fff" stroke="#000" stroke-width="1"/><text transform="translate(635.5 403.76) scale(1 1.03)">E4</text><path d="M574 425.38H628.7" stroke="#66f" stroke-width="1.4"/><circle cx="601.2" cy="425.38" r="4.2" fill="#fff" stroke="#00f" stroke-width="1"/><text transform="translate(635.5 433.98) scale(1 1.03)">E5</text><path d="M574 455.6H628.7" stroke="#faa" stroke-width="1.4"/><circle cx="601.2" cy="455.6" r="4.2" fill="#fff" stroke="#f00" stroke-width="1"/><text transform="translate(635.5 464.2) scale(1 1.03)">E6</text></svg></body></html>
